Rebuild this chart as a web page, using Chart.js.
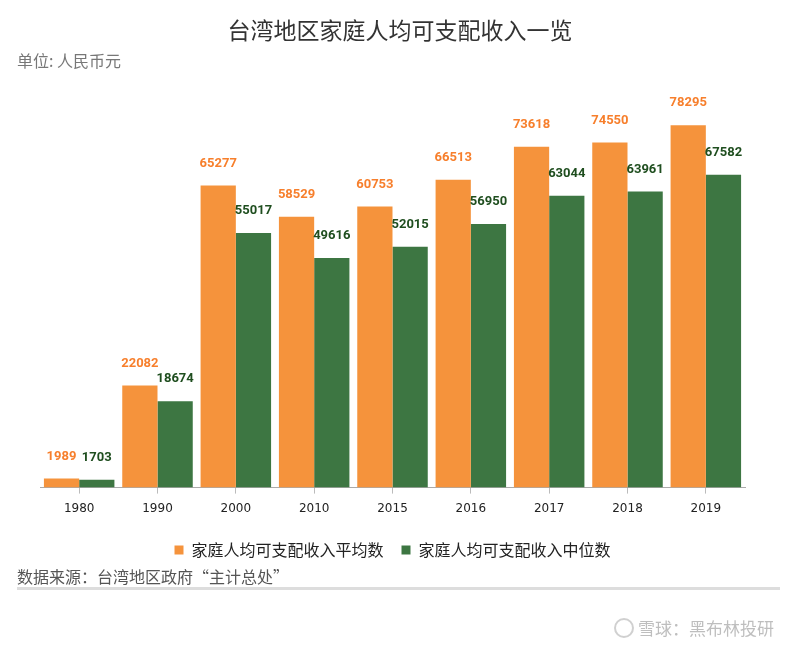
<!DOCTYPE html>
<html>
<head>
<meta charset="utf-8">
<script src="https://cdn.jsdelivr.net/npm/chart.js@4/dist/chart.umd.min.js"></script>
<style>
html,body{margin:0;padding:0;background:#fff;}
#wrap{width:800px;height:652px;position:relative;}
</style>
</head>
<body>
<div id="wrap"><canvas id="c" width="800" height="652"></canvas></div>
<script>
const categories = ['1980','1990','2000','2010','2015','2016','2017','2018','2019'];
const meanIncome = [1989,22082,65277,58529,60753,66513,73618,74550,78295];
const medianIncome = [1703,18674,55017,49616,52015,56950,63044,63961,67582];
const seriesNames = ['家庭人均可支配收入平均数','家庭人均可支配收入中位数'];
const titleText = '台湾地区家庭人均可支配收入一览';
const unitText = '单位: 人民币元';
const sourceText = '数据来源：台湾地区政府“主计总处”';
const watermarkText = '雪球：黑布林投研';

const CJK = '"Noto Sans CJK SC", "Noto Sans", sans-serif';
const labelColors = ['#F77F2C','#1F4E1F'];

const valueLabels = {
  id:'valueLabels',
  afterDatasetsDraw(chart){
    const ctx = chart.ctx;
    ctx.save();
    ctx.font = 'bold 13px Roboto, "DejaVu Sans", sans-serif';
    ctx.textAlign = 'center';
    ctx.textBaseline = 'middle';
    chart.data.datasets.forEach((ds,i)=>{
      const meta = chart.getDatasetMeta(i);
      ctx.fillStyle = labelColors[i];
      meta.data.forEach((bar,j)=>{
        ctx.fillText(String(ds.data[j]), bar.x, bar.y - 22);
      });
    });
    ctx.restore();
  }
};

const texts = {
  id:'texts',
  afterDraw(chart){
    const ctx = chart.ctx;
    ctx.save();
    ctx.textBaseline = 'middle';
    ctx.fillStyle = '#333';
    ctx.font = '23px ' + CJK;
    ctx.textAlign = 'center';
    ctx.fillText(titleText, 400, 30);
    ctx.textAlign = 'left';
    ctx.fillStyle = '#777';
    ctx.font = '16px ' + CJK;
    ctx.fillText(unitText, 17, 61);
    ctx.fillStyle = '#555';
    ctx.fillText(sourceText, 17, 577);
    ctx.fillStyle = '#ddd';
    ctx.fillRect(17, 587, 763, 3);
    // watermark
    ctx.globalAlpha = 0.55;
    ctx.strokeStyle = '#aaa';
    ctx.lineWidth = 2;
    ctx.beginPath();
    ctx.arc(624, 628, 9, 0, Math.PI*2);
    ctx.stroke();
    ctx.fillStyle = '#888';
    ctx.font = '17px ' + CJK;
    ctx.fillText(watermarkText, 638, 629);
    ctx.restore();
  }
};

new Chart(document.getElementById('c'), {
  type:'bar',
  data:{
    labels:categories,
    datasets:[
      {label:seriesNames[0], data:meanIncome, backgroundColor:'#F5933C', borderWidth:0},
      {label:seriesNames[1], data:medianIncome, backgroundColor:'#3D7642', borderWidth:0}
    ]
  },
  options:{
    responsive:false,
    animation:false,
    layout:{padding:{top:71,left:40,right:55,bottom:84}},
    datasets:{bar:{categoryPercentage:0.9,barPercentage:1.0}},
    scales:{
      x:{
        grid:{offset:false,drawOnChartArea:false,drawTicks:true,tickLength:6,color:'#bbb'},
        border:{color:'#aaa',width:1},
        ticks:{color:'#222',font:{family:'"DejaVu Sans", sans-serif',size:12},padding:8}
      },
      y:{display:false,min:0,max:90000}
    },
    plugins:{
      legend:{
        position:'bottom',
        labels:{boxWidth:9,boxHeight:9,color:'#222',font:{family:CJK,size:16},padding:18}
      },
      tooltip:{enabled:false},
      title:{display:false}
    }
  },
  plugins:[valueLabels,texts]
});
</script>
</body>
</html>
